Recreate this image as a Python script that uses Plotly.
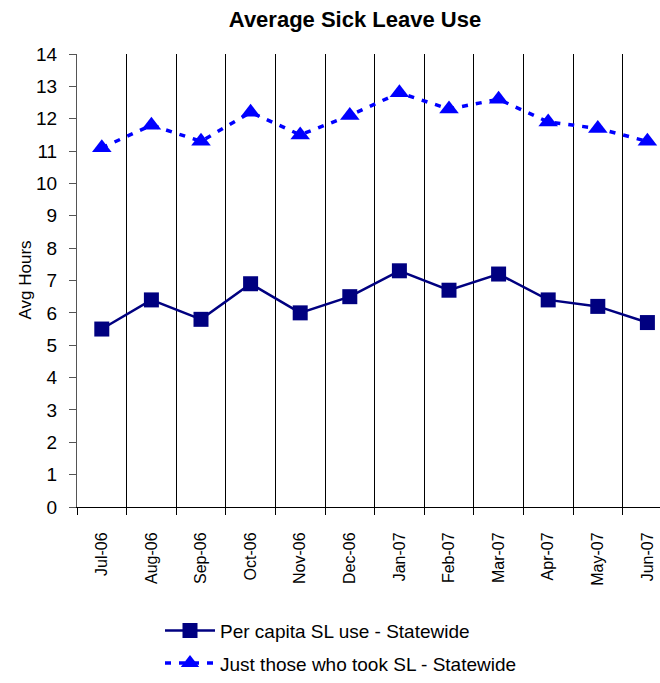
import plotly.graph_objects as go

# Monthly average sick leave hours, fiscal year Jul-06 .. Jun-07
months = ["Jul-06", "Aug-06", "Sep-06", "Oct-06", "Nov-06", "Dec-06",
          "Jan-07", "Feb-07", "Mar-07", "Apr-07", "May-07", "Jun-07"]
per_capita = [5.5, 6.4, 5.8, 6.9, 6.0, 6.5, 7.3, 6.7, 7.2, 6.4, 6.2, 5.7]
took_sl = [11.1, 11.8, 11.3, 12.2, 11.5, 12.1, 12.8, 12.3, 12.6, 11.9, 11.7, 11.3]
y_ticks = list(range(0, 15))

FONT = "Liberation Sans, Arial, sans-serif"

W, H = 660, 683
L, R, T, B = 77, 0, 54, 174

fig = go.Figure()
fig.add_trace(go.Scatter(
    x=months, y=per_capita, mode="lines+markers",
    name="Per capita SL use - Statewide", legendgroup="a",
    line=dict(color="#000080", width=2.5),
    marker=dict(symbol="square", size=15, color="#000080"),
))
fig.add_trace(go.Scatter(
    x=months, y=took_sl, mode="lines+markers",
    name="Just those who took SL - Statewide", legendgroup="b",
    line=dict(color="#0000FF", width=3.5, dash="6px,8px"),
    marker=dict(symbol="triangle-up", size=17, color="#0000FF"),
))

# Category slot width in pixels (12 slots, right end cut by the page edge)
slot = 49.6
plot_w = W - L - R
plot_h = H - T - B
x_end = -0.5 + plot_w / slot

fig.update_layout(
    width=W, height=H,
    margin=dict(l=L, r=R, t=T, b=B, pad=0),
    paper_bgcolor="white", plot_bgcolor="white",
    font=dict(family=FONT, size=17, color="black"),
    title=dict(text="<b>Average Sick Leave Use</b>", font=dict(size=22, family=FONT),
               x=355 / W, xref="container", xanchor="center",
               y=1 - 19 / H, yref="container", yanchor="middle"),
    showlegend=True,
    legend=dict(x=(160 - L) / plot_w, y=((H - B) - 614) / plot_h,
                xanchor="left", yanchor="top",
                orientation="v", font=dict(size=19, family=FONT),
                bgcolor="rgba(0,0,0,0)", itemwidth=50, tracegroupgap=5),
    xaxis=dict(
        type="category", categoryorder="array", categoryarray=months,
        range=[-0.5, x_end], tickson="boundaries",
        showgrid=True, gridcolor="black", gridwidth=1,
        showline=True, linecolor="black", linewidth=1,
        ticks="outside", ticklen=7, tickcolor="black",
        tickangle=-90, tickfont=dict(size=16),
        ticklabelstandoff=18, zeroline=False, automargin=False,
    ),
    yaxis=dict(
        range=[0, 14], tickvals=y_ticks, showgrid=False,
        showline=True, linecolor="#555555", linewidth=1,
        ticks="outside", ticklen=7, tickcolor="#555555",
        tickfont=dict(size=19), ticklabelstandoff=8, zeroline=False, automargin=False,
    ),
    annotations=[dict(text="Avg Hours", textangle=-90, x=(25 - L) / plot_w, y=0.5,
                      xref="paper", yref="paper", showarrow=False,
                      font=dict(size=17, family=FONT), xanchor="center", yanchor="middle")],
)

fig.write_html("out.html")
